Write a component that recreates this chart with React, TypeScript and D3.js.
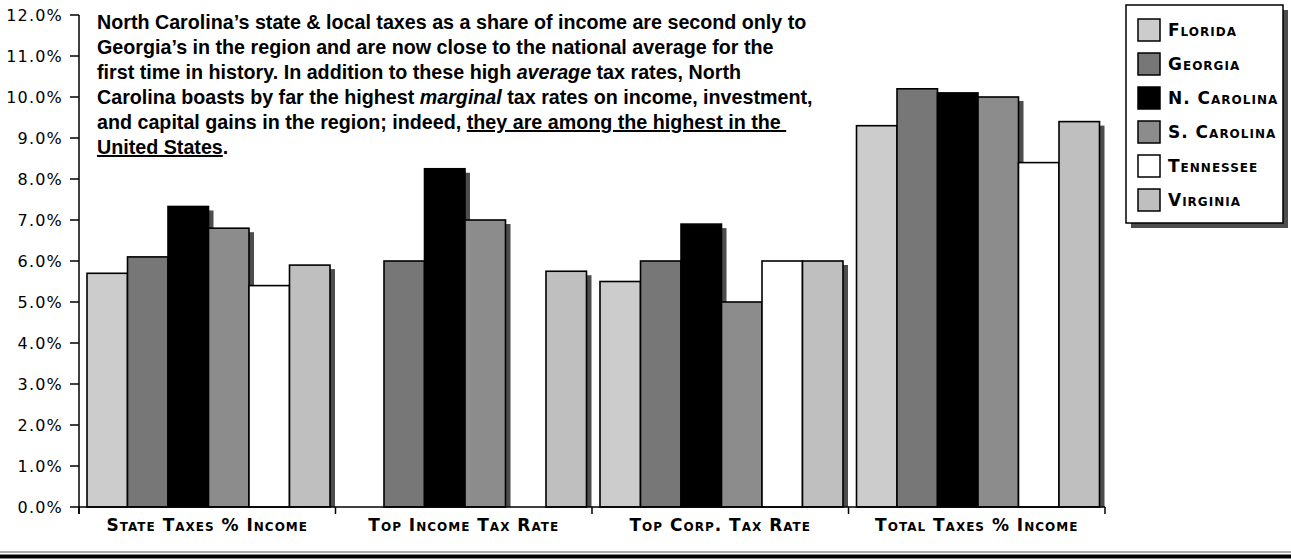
import React from "react";
import * as d3 from "d3";

const categories = ["State Taxes % Income", "Top Income Tax Rate", "Top Corp. Tax Rate", "Total Taxes % Income"];
const states = ["Florida", "Georgia", "N. Carolina", "S. Carolina", "Tennessee", "Virginia"];
const florida = [5.7, 0, 5.5, 9.3];
const georgia = [6.1, 6.0, 6.0, 10.2];
const nCarolina = [7.33, 8.25, 6.9, 10.1];
const sCarolina = [6.8, 7.0, 5.0, 10.0];
const tennessee = [5.4, 0, 6.0, 8.4];
const virginia = [5.9, 5.75, 6.0, 9.4];
const yTicks = [0, 1, 2, 3, 4, 5, 6, 7, 8, 9, 10, 11, 12];

const seriesValues = [florida, georgia, nCarolina, sCarolina, tennessee, virginia];
const colors = ["#cccccc", "#777777", "#000000", "#8c8c8c", "#ffffff", "#bfbfbf"];

const W = 1291, H = 560;
const shadow = "#4d4d4d";

export default function App() {
  const y = d3.scaleLinear().domain([0, 12]).range([507, 15]);
  const x0 = d3.scaleBand<string>().domain(categories).range([79, 1105]).paddingInner(0);
  const x1 = d3.scaleBand<string>().domain(states).range([8, 251]).padding(0);
  const bw = x1.bandwidth();
  const fmt = d3.format(".1f");
  const scFont = "'DejaVu Sans', sans-serif";

  return (
    <svg width={W} height={H} style={{ position: "absolute", left: 0, top: 0, background: "#fff" }}>
      {/* bars */}
      {categories.map((c, ci) => {
        const gx = x0(c)!;
        return (
          <g key={c}>
            {states.map((s, si) => {
              const v = seriesValues[si][ci];
              const bx = gx + x1(s)!;
              const by = y(v);
              const h = y(0) - by;
              if (v <= 0) return null;
              return (
                <g key={s}>
                  <rect x={bx + 5} y={by + 4} width={bw} height={h - 4} fill={shadow} />
                  <rect x={bx} y={by} width={bw} height={h} fill={colors[si]} stroke="#000" strokeWidth={1.6} />
                </g>
              );
            })}
          </g>
        );
      })}

      {/* y axis */}
      <line x1={79} x2={79} y1={y(12)} y2={y(0) + 7} stroke="#000" strokeWidth={1.5} />
      {yTicks.map((t) => (
        <g key={t}>
          <line x1={70} x2={79} y1={y(t)} y2={y(t)} stroke="#000" strokeWidth={1.5} />
          <text x={63} y={y(t)} dy="0.36em" textAnchor="end" fontFamily={scFont} fontSize={16} letterSpacing={1.2} fill="#000">
            {fmt(t)}%
          </text>
        </g>
      ))}

      {/* x axis */}
      <line x1={79} x2={1105} y1={y(0)} y2={y(0)} stroke="#000" strokeWidth={1.5} />
      {[...categories.map((c) => x0(c)!), 1105].map((tx, i) => (
        <line key={i} x1={tx} x2={tx} y1={y(0)} y2={y(0) + 7} stroke="#000" strokeWidth={1.5} />
      ))}
      {categories.map((c) => (
        <text key={c} x={x0(c)! + x0.bandwidth() / 2} y={531} textAnchor="middle" fontFamily={scFont} fontWeight="bold"
          fontSize={17} letterSpacing={1} style={{ fontVariant: "small-caps" }} fill="#000">
          {c}
        </text>
      ))}

      {/* annotation */}
      <text fontFamily="'Liberation Sans', Arial, sans-serif" fontWeight="bold" fontSize={19.7} fill="#000">
        <tspan x={97} y={29}>North Carolina’s state &amp; local taxes as a share of income are second only to</tspan>
        <tspan x={97} y={54}>Georgia’s in the region and are now close to the national average for the</tspan>
        <tspan x={97} y={79}>first time in history. In addition to these high <tspan fontStyle="italic">average</tspan> tax rates, North</tspan>
        <tspan x={97} y={104}>Carolina boasts by far the highest <tspan fontStyle="italic">marginal</tspan> tax rates on income, investment,</tspan>
        <tspan x={97} y={129}>and capital gains in the region; indeed, <tspan textDecoration="underline">they are among the highest in the </tspan></tspan>
        <tspan x={97} y={154}><tspan textDecoration="underline">United States</tspan>.</tspan>
      </text>

      {/* legend */}
      <rect x={1131} y={10} width={157} height={218} fill={shadow} />
      <rect x={1126} y={5} width={157} height={218} fill="#fff" stroke="#000" strokeWidth={1.5} />
      {states.map((s, i) => {
        const cy = 30 + i * 34;
        return (
          <g key={s}>
            <rect x={1138} y={cy - 11} width={22} height={22} fill={colors[i]} stroke="#000" strokeWidth={1.5} />
            <text x={1168} y={cy} dy="0.36em" fontFamily={scFont} fontWeight="bold" fontSize={17} letterSpacing={1}
              style={{ fontVariant: "small-caps" }} fill="#000">{s}</text>
          </g>
        );
      })}

      {/* bottom rule */}
      <line x1={0} x2={W} y1={552} y2={552} stroke="#555" strokeWidth={1.2} />
      <rect x={0} y={554.5} width={W} height={4} fill="#000" />
    </svg>
  );
}
